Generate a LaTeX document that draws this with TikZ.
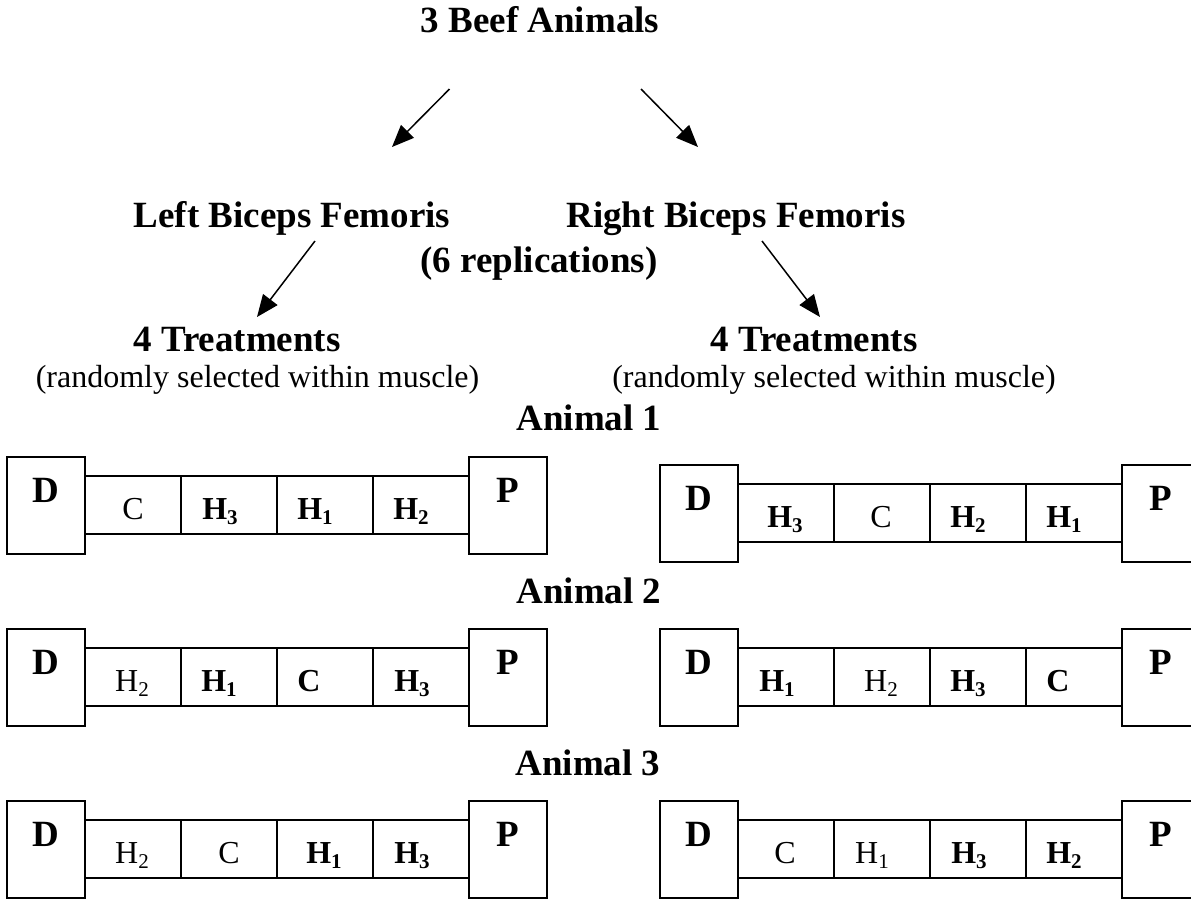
\documentclass[tikz,border=0pt]{standalone}
\usepackage{fontspec}
\setmainfont{Liberation Serif}
\usetikzlibrary{arrows.meta}
\newcommand\mysub[1]{\raisebox{-5pt}{\fontsize{21}{21}\selectfont #1}}
\newcommand\musclerow[3]{%
  \node[endbox, anchor=north west] (#1D) at (#2,#3) {};
  \node[endlabel, anchor=base] (#1Dt) at (#2+39,#3+45) {D};
  \node[cellbox, anchor=north west] (#1c1) at (#2+78,#3+19) {};
  \node[cellbox, anchor=north west] (#1c2) at (#2+174,#3+19) {};
  \node[cellbox, anchor=north west] (#1c3) at (#2+270,#3+19) {};
  \node[cellbox, anchor=north west] (#1c4) at (#2+366,#3+19) {};
  \node[endbox, anchor=north west] (#1P) at (#2+462,#3) {};
  \node[endlabel, anchor=base] (#1Pt) at (#2+501,#3+45) {P};
}
\begin{document}
\begin{tikzpicture}[x=1pt,y=-1pt,
  heading/.style={font=\fontsize{37}{40}\selectfont\bfseries, inner sep=0pt, anchor=base},
  note/.style={font=\fontsize{32}{36}\selectfont, inner sep=0pt, anchor=base},
  endbox/.style={draw, line width=2pt, minimum width=78pt, minimum height=97pt, inner sep=0pt, outer sep=0pt},
  cellbox/.style={draw, line width=2pt, minimum width=96pt, minimum height=58pt, inner sep=0pt, outer sep=0pt},
  endlabel/.style={font=\fontsize{37}{40}\selectfont\bfseries, inner sep=0pt},
  ct/.style={font=\fontsize{32}{36}\selectfont, inner sep=0pt, anchor=base},
  cb/.style={font=\fontsize{32}{36}\selectfont\bfseries, inner sep=0pt, anchor=base},
  arr/.style={line width=1.5pt, -{Triangle[length=22pt,width=18pt]}}]
\clip (0,0) rectangle (1191,898);
\fill[white] (0,0) rectangle (1191,898);

% headings
\node[heading] (beef) at (540,32) {3 Beef Animals};
\node[heading] (lbf) at (292,227) {Left Biceps Femoris};
\node[heading] (rbf) at (736,227) {Right Biceps Femoris};
\node[heading] (rep) at (539,272) {(6 replications)};
\node[heading] (tl) at (237,351) {4 Treatments};
\node[heading] (tr) at (814,351) {4 Treatments};
\node[note] (nl) at (257.5,387) {(randomly selected within muscle)};
\node[note] (nr) at (834,387) {(randomly selected within muscle)};
\node[heading] (an1) at (589,430) {Animal 1};
\node[heading] (an2) at (589,603) {Animal 2};
\node[heading] (an3) at (588,775) {Animal 3};

% arrows
\coordinate (a1s) at (449.5,89); \coordinate (a1e) at (392,147);
\coordinate (a2s) at (641,89);   \coordinate (a2e) at (698,147);
\coordinate (a3s) at (315,241);  \coordinate (a3e) at (257,317);
\coordinate (a4s) at (762,241);  \coordinate (a4e) at (820,317);
\draw[arr] (a1s) -- (a1e);
\draw[arr] (a2s) -- (a2e);
\draw[arr] (a3s) -- (a3e);
\draw[arr] (a4s) -- (a4e);

% rows
\musclerow{oneL}{7}{457}
\musclerow{oneR}{660}{465}
\musclerow{twoL}{7}{629}
\musclerow{twoR}{660}{629}
\musclerow{threeL}{7}{801}
\musclerow{threeR}{660}{801}

% row 1 texts
\node[ct] (oneLt1) at (133,519) {C};
\node[cb] (oneLt2) at (220,519) {H\mysub{3}};
\node[cb] (oneLt3) at (315,519) {H\mysub{1}};
\node[cb] (oneLt4) at (411,519) {H\mysub{2}};
\node[cb] (oneRt1) at (785,527) {H\mysub{3}};
\node[ct] (oneRt2) at (881,527) {C};
\node[cb] (oneRt3) at (968,527) {H\mysub{2}};
\node[cb] (oneRt4) at (1064,527) {H\mysub{1}};
% row 2 texts
\node[ct] (twoLt1) at (132,691) {H\mysub{2}};
\node[cb] (twoLt2) at (219,691) {H\mysub{1}};
\node[cb] (twoLt3) at (309,691) {C};
\node[cb] (twoLt4) at (412,691) {H\mysub{3}};
\node[cb] (twoRt1) at (777,691) {H\mysub{1}};
\node[ct] (twoRt2) at (881,691) {H\mysub{2}};
\node[cb] (twoRt3) at (968,691) {H\mysub{3}};
\node[cb] (twoRt4) at (1058,691) {C};
% row 3 texts
\node[ct] (threeLt1) at (132,863) {H\mysub{2}};
\node[ct] (threeLt2) at (229,863) {C};
\node[cb] (threeLt3) at (324,863) {H\mysub{1}};
\node[cb] (threeLt4) at (412,863) {H\mysub{3}};
\node[ct] (threeRt1) at (785,863) {C};
\node[ct] (threeRt2) at (872,863) {H\mysub{1}};
\node[cb] (threeRt3) at (969,863) {H\mysub{3}};
\node[cb] (threeRt4) at (1064,863) {H\mysub{2}};
\end{tikzpicture}
\end{document}
